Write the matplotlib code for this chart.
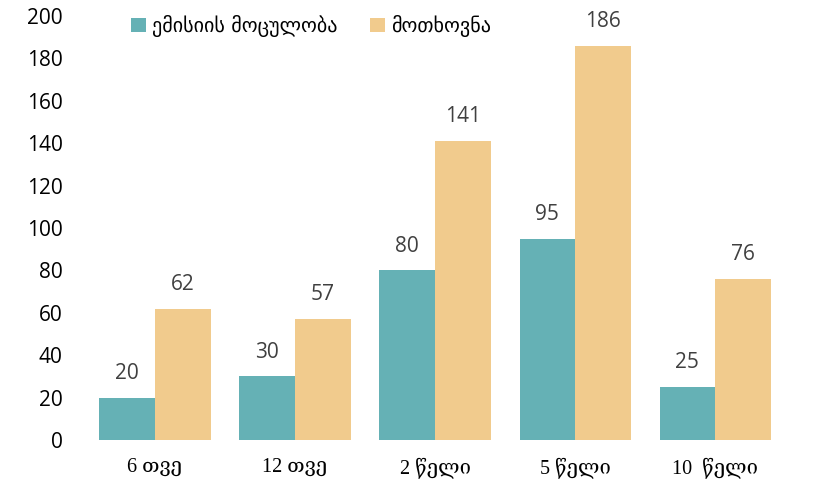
import matplotlib
matplotlib.use("Agg")
import matplotlib.pyplot as plt
import numpy as np

# data
categories = ["6 თვე", "12 თვე", "2 წელი", "5 წელი", "10  წელი"]
emission = [20, 30, 80, 95, 25]
demand = [62, 57, 141, 186, 76]
series_names = ["ემისიის მოცულობა", "მოთხოვნა"]

teal = "#65B1B5"
tan = "#F1CB8D"

fig = plt.figure(figsize=(8.24, 4.87), dpi=100)
ax = fig.add_axes([0.103, 0.0965, 0.85, 0.8705])

x = np.arange(len(categories))
w = 0.397
b1 = ax.bar(x - w / 2, emission, w, color=teal, label=series_names[0])
b2 = ax.bar(x + w / 2, demand, w, color=tan, label=series_names[1])

# value labels above the bars
for bars in (b1, b2):
    for rect in bars:
        h = rect.get_height()
        ax.annotate(f"{h:g}", xy=(rect.get_x() + rect.get_width() / 2, h),
                    xytext=(0, 10), textcoords="offset points",
                    ha="center", va="bottom", fontsize=15,
                    color="#404040", family="Open Sans")

ax.set_xlim(-0.5, len(categories) - 0.5)
ax.set_ylim(0, 200)
ax.set_yticks(np.arange(0, 201, 20))
ax.set_xticks(x)
ax.set_xticklabels(categories, family=["Liberation Serif", "DejaVu Serif"],
                   fontsize=14.5)
for lbl in ax.get_yticklabels():
    lbl.set_family("Open Sans")
    lbl.set_fontsize(15)
    lbl.set_color("black")
ax.tick_params(axis="y", length=0, pad=16)
ax.tick_params(axis="x", length=0, pad=13)
for s in ax.spines.values():
    s.set_visible(False)

ax.legend(loc="upper left", bbox_to_anchor=(0.04, 1.045), ncol=2, frameon=False,
          prop={"family": "DejaVu Sans", "size": 14.5}, handlelength=0.75,
          handleheight=0.75, handletextpad=0.3, columnspacing=1.6)

fig.savefig("out.png", dpi=100)
